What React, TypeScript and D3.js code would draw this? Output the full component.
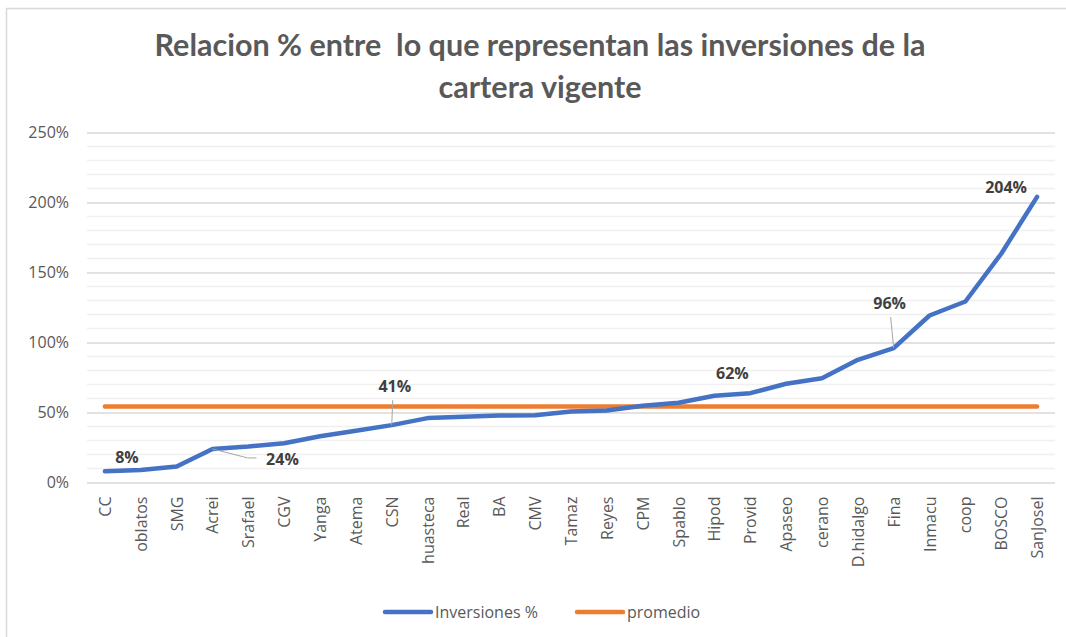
import React, { useRef, useEffect } from 'react';
import * as d3 from 'd3';

// categories along the x axis, already sorted by value
const categories = [
  'CC', 'oblatos', 'SMG', 'Acrei', 'Srafael', 'CGV', 'Yanga', 'Atema', 'CSN',
  'huasteca', 'Real', 'BA', 'CMV', 'Tamaz', 'Reyes', 'CPM', 'Spablo', 'Hipod',
  'Provid', 'Apaseo', 'cerano', 'D.hidalgo', 'Fina', 'Inmacu', 'coop', 'BOSCO', 'SanJosel'
];

const inversiones = [
  0.08, 0.09, 0.114, 0.24, 0.257, 0.28, 0.33, 0.37, 0.41,
  0.46, 0.47, 0.479, 0.48, 0.507, 0.514, 0.548, 0.57, 0.62,
  0.638, 0.705, 0.745, 0.876, 0.96, 1.193, 1.293, 1.634, 2.04
];

const promedio = 0.543;

const yTicks = [0, 0.5, 1, 1.5, 2, 2.5];

// which points get a data label, with offsets from the point
const labelled = [
  { i: 0, dx: 22, dy: -14, leader: false },
  { i: 3, dx: 70, dy: 10, leader: true },
  { i: 8, dx: 3, dy: -39, leader: true },
  { i: 17, dx: 18, dy: -23, leader: false },
  { i: 22, dx: -4, dy: -45, leader: true },
  { i: 26, dx: -31, dy: -10, leader: false }
];

const BLUE = '#4472C4';
const ORANGE = '#ED7D31';
const GREY = '#595959';

const W = 1066;
const H = 637;

const Chart = () => {
  const ref = useRef(null);

  useEffect(() => {
    const svg = d3.select(ref.current);
    svg.selectAll('*').remove();

    const margin = { left: 87, right: 1055, top: 132.5, bottom: 482.5 };

    const x = d3.scaleBand()
      .domain(categories)
      .range([margin.left, margin.right]);

    const y = d3.scaleLinear()
      .domain([0, 2.5])
      .range([margin.bottom, margin.top]);

    const cx = (c) => x(c) + x.bandwidth() / 2;

    // frame (only left and top edges are in view)
    svg.append('path')
      .attr('d', `M6.5,${H} V8.5 H${W}`)
      .attr('fill', 'none')
      .attr('stroke', '#d9d9d9')
      .attr('stroke-width', 1.5);

    // title
    const title = svg.append('text')
      .attr('text-anchor', 'middle')
      .attr('font-family', 'Lato, sans-serif')
      .attr('font-weight', 'bold')
      .attr('font-size', 30.5)
      .attr('fill', GREY)
      .style('white-space', 'pre');
    title.append('tspan').attr('x', 540).attr('y', 56).text('Relacion % entre  lo que representan las inversiones de la');
    title.append('tspan').attr('x', 540).attr('y', 98).text('cartera vigente');

    // minor grid every 10%
    const minor = d3.range(0, 251, 10).map(v => v / 100).filter(v => Math.round(v * 100) % 50 !== 0);
    svg.append('g').selectAll('line')
      .data(minor)
      .enter().append('line')
      .attr('x1', margin.left).attr('x2', margin.right)
      .attr('y1', d => y(d)).attr('y2', d => y(d))
      .attr('stroke', '#f0f0f0')
      .attr('stroke-width', 1.3);

    // major grid + y labels
    const yAxis = svg.append('g')
      .attr('transform', `translate(${margin.left},0)`)
      .call(d3.axisLeft(y).tickValues(yTicks).tickFormat(d3.format('.0%'))
        .tickSize(-(margin.right - margin.left)).tickPadding(18));
    yAxis.select('.domain').remove();
    yAxis.selectAll('line').attr('stroke', '#d9d9d9').attr('stroke-width', 1.3);
    yAxis.selectAll('text')
      .attr('font-family', '"Open Sans", sans-serif')
      .attr('font-size', 16)
      .attr('fill', GREY);

    // x labels, rotated
    svg.append('g').selectAll('text')
      .data(categories)
      .enter().append('text')
      .attr('transform', d => `translate(${cx(d) + 6},${margin.bottom + 14}) rotate(-90)`)
      .attr('text-anchor', 'end')
      .attr('font-family', '"Open Sans", sans-serif')
      .attr('font-size', 16)
      .attr('fill', GREY)
      .text(d => d);

    // promedio
    svg.append('line')
      .attr('x1', cx(categories[0])).attr('x2', cx(categories[categories.length - 1]))
      .attr('y1', y(promedio)).attr('y2', y(promedio))
      .attr('stroke', ORANGE)
      .attr('stroke-width', 4.5)
      .attr('stroke-linecap', 'round');

    // inversiones
    const line = d3.line()
      .x((d, i) => cx(categories[i]))
      .y(d => y(d));

    svg.append('path')
      .datum(inversiones)
      .attr('d', line)
      .attr('fill', 'none')
      .attr('stroke', BLUE)
      .attr('stroke-width', 4.5)
      .attr('stroke-linejoin', 'round')
      .attr('stroke-linecap', 'round');

    // data labels
    labelled.forEach(l => {
      const px = cx(categories[l.i]);
      const py = y(inversiones[l.i]);
      const lx = px + l.dx;
      const ly = py + l.dy;
      if (l.leader) {
        if (l.i === 3) {
          svg.append('path')
            .attr('d', `M${px},${py} L${lx - 35},${ly - 1} H${lx - 26}`)
            .attr('fill', 'none').attr('stroke', '#a6a6a6').attr('stroke-width', 1);
        } else {
          svg.append('line')
            .attr('x1', px).attr('y1', py)
            .attr('x2', lx - (l.dx > 0 ? 2 : -1)).attr('y2', ly + 14)
            .attr('stroke', '#a6a6a6').attr('stroke-width', 1);
        }
      }
      svg.append('text')
        .attr('x', lx).attr('y', ly + 6)
        .attr('text-anchor', 'middle')
        .attr('font-family', '"Open Sans", sans-serif')
        .attr('font-weight', 'bold')
        .attr('font-size', 16)
        .attr('fill', '#404040')
        .text(d3.format('.0%')(inversiones[l.i]));
    });

    // legend
    const legend = svg.append('g').attr('font-family', '"Open Sans", sans-serif').attr('font-size', 16).attr('fill', GREY);
    [['Inversiones %', BLUE, 385], ['promedio', ORANGE, 577]].forEach(([name, color, lx]) => {
      legend.append('line')
        .attr('x1', lx).attr('x2', lx + 46)
        .attr('y1', 612).attr('y2', 612)
        .attr('stroke', color).attr('stroke-width', 4.5)
        .attr('stroke-linecap', 'round');
      legend.append('text')
        .attr('x', lx + 50).attr('y', 618)
        .text(name);
    });
  }, []);

  return <svg ref={ref} width={W} height={H} style={{ position: 'absolute', left: 0, top: 0, background: '#fff' }} />;
};

export default function App() {
  return <Chart />;
}
